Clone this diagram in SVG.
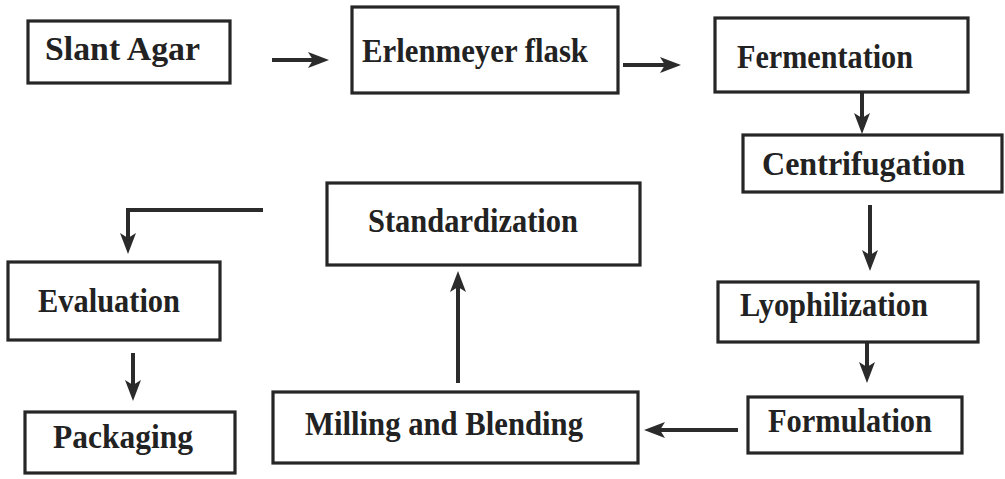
<svg xmlns="http://www.w3.org/2000/svg" width="1005" height="479" viewBox="0 0 1005 479">
<defs>
<marker id="ah" markerUnits="userSpaceOnUse" markerWidth="22" markerHeight="18" refX="8" refY="9" orient="auto">
<path d="M0,1 L21,9 L0,17 L5,9 Z" fill="#2b2b2b"/>
</marker>
<style>
.box{fill:#fff;stroke:#262626;stroke-width:3.2}
.lbl{font-family:"Liberation Serif","Times New Roman",serif;font-weight:bold;font-size:34px;fill:#222}
.con{fill:none;stroke:#2b2b2b;stroke-width:4;marker-end:url(#ah)}
</style>
</defs>
<rect width="1005" height="479" fill="#fff"/>
<g id="connectors">
<path class="con" d="M272,60 H316"/>
<path class="con" d="M623,65 H668"/>
<path class="con" d="M862,92 V121"/>
<path class="con" d="M870,205 V258"/>
<path class="con" d="M867,342 V370"/>
<path class="con" d="M738,430 H657"/>
<path class="con" d="M458,383 V284"/>
<path class="con" d="M263,210 H128 V241"/>
<path class="con" d="M133,353 V388"/>
</g>
<g id="n-slant"><rect class="box" x="28" y="21" width="202" height="62"/><text class="lbl" x="45" y="60" textLength="155" lengthAdjust="spacingAndGlyphs">Slant Agar</text></g>
<g id="n-erlen"><rect class="box" x="352" y="7" width="266" height="86"/><text class="lbl" x="362" y="62" textLength="226" lengthAdjust="spacingAndGlyphs">Erlenmeyer flask</text></g>
<g id="n-ferm"><rect class="box" x="715" y="18" width="253" height="74"/><text class="lbl" x="737" y="68" textLength="176" lengthAdjust="spacingAndGlyphs">Fermentation</text></g>
<g id="n-centri"><rect class="box" x="743" y="135" width="259" height="57"/><text class="lbl" x="762" y="175" textLength="203" lengthAdjust="spacingAndGlyphs">Centrifugation</text></g>
<g id="n-lyo"><rect class="box" x="718" y="282" width="260" height="60"/><text class="lbl" x="740" y="316" textLength="188" lengthAdjust="spacingAndGlyphs">Lyophilization</text></g>
<g id="n-form"><rect class="box" x="748" y="397" width="214" height="56"/><text class="lbl" x="768" y="432" textLength="164" lengthAdjust="spacingAndGlyphs">Formulation</text></g>
<g id="n-mill"><rect class="box" x="273" y="392" width="365" height="71"/><text class="lbl" x="305" y="435" textLength="278" lengthAdjust="spacingAndGlyphs">Milling and Blending</text></g>
<g id="n-std"><rect class="box" x="327" y="183" width="313" height="82"/><text class="lbl" x="368" y="232" textLength="210" lengthAdjust="spacingAndGlyphs">Standardization</text></g>
<g id="n-eval"><rect class="box" x="8" y="262" width="212" height="78"/><text class="lbl" x="38" y="312" textLength="142" lengthAdjust="spacingAndGlyphs">Evaluation</text></g>
<g id="n-pack"><rect class="box" x="25" y="412" width="210" height="61"/><text class="lbl" x="53" y="448" textLength="140" lengthAdjust="spacingAndGlyphs">Packaging</text></g>
</svg>
